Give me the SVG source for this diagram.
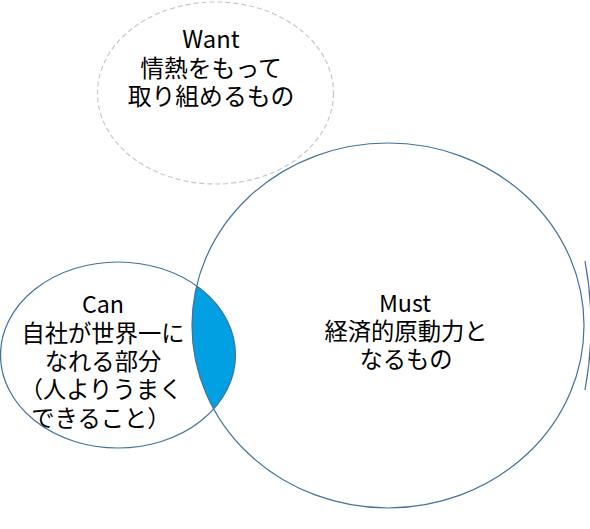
<svg xmlns="http://www.w3.org/2000/svg" width="590" height="529" viewBox="0 0 590 529">
<style>
.e{fill:none;stroke:#41719C;stroke-width:1.2}
.t{font-family:"Noto Sans CJK JP","DejaVu Sans",sans-serif;font-size:23.3px;fill:#000;text-anchor:middle}
.w{font-size:23.8px}
</style>
<defs>
<clipPath id="mustClip"><ellipse cx="388" cy="325.5" rx="196" ry="182.5"/></clipPath>
</defs>
<rect width="590" height="529" fill="#fff"/>
<g id="want">
<ellipse cx="215.5" cy="93" rx="118" ry="91" fill="none" stroke="#C8C8C8" stroke-width="1.2" stroke-dasharray="5,3"/>
<text class="t w"><tspan x="211" y="48">Want</tspan><tspan x="211" y="77">情熱をもって</tspan><tspan x="211" y="105">取り組めるもの</tspan></text>
</g>
<g id="overlap">
<ellipse cx="118" cy="355" rx="117.5" ry="93" fill="#00A0E3" clip-path="url(#mustClip)"/>
</g>
<g id="can">
<ellipse class="e" cx="118" cy="355" rx="117.5" ry="93"/>
<text class="t"><tspan x="103" y="313">Can</tspan><tspan x="103" y="342">自社が世界一に</tspan><tspan x="103" y="370">なれる部分</tspan><tspan x="101" y="398">（人よりうまく</tspan><tspan x="101" y="427">できること）</tspan></text>
</g>
<g id="must">
<ellipse class="e" cx="388" cy="325.5" rx="196" ry="182.5"/>
<text class="t"><tspan x="405" y="312">Must</tspan><tspan x="406" y="340">経済的原動力と</tspan><tspan x="406" y="368">なるもの</tspan></text>
</g>
<g id="connectors">
<path class="e" d="M585,261 Q597,325 585,390"/>
</g>
</svg>
